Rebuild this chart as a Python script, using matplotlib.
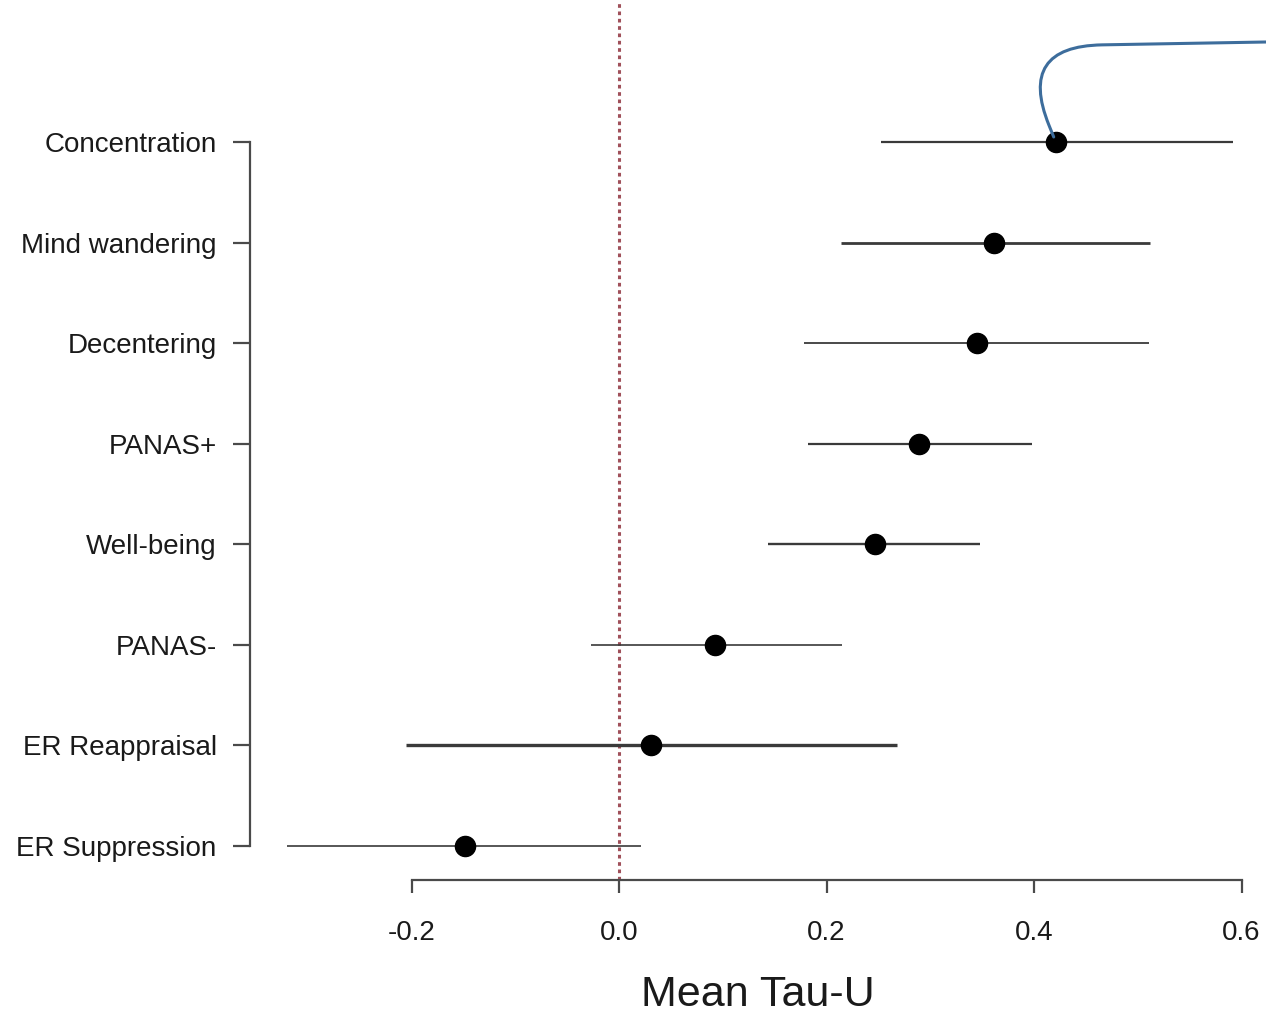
import matplotlib
matplotlib.use("Agg")
import matplotlib.pyplot as plt

categories = ["Concentration", "Mind wandering", "Decentering", "PANAS+",
              "Well-being", "PANAS-", "ER Reappraisal", "ER Suppression"]
mean_tau = [0.421, 0.361, 0.345, 0.289, 0.247, 0.093, 0.031, -0.148]
ci_low = [0.253, 0.214, 0.178, 0.182, 0.144, -0.027, -0.205, -0.320]
ci_high = [0.592, 0.512, 0.511, 0.398, 0.348, 0.215, 0.268, 0.021]
line_widths = [1.6, 2.0, 1.3, 1.6, 1.7, 1.2, 2.4, 1.2]
x_ticks = [-0.2, 0.0, 0.2, 0.4, 0.6]
x_tick_labels = ["-0.2", "0.0", "0.2", "0.4", "0.6"]

plt.rcParams['font.family'] = ['Liberation Sans', 'DejaVu Sans']

W, H = 1266, 1013
fig = plt.figure(figsize=(W / 100, H / 100), dpi=100)
ax = fig.add_axes([0, 0, 1, 1])

# pixel -> data mapping
px_per_unit = 1037.5
x0_px = 619
ax.set_xlim(-x0_px / px_per_unit, (W - x0_px) / px_per_unit)
row_px = (846 - 142) / 7
n = len(categories)
ypos = [n - i for i in range(n)]
ax.set_ylim(n - (H - 142) / row_px, n + 142 / row_px)

xaxis_y = n - (880 - 142) / row_px
yaxis_x = (250 - x0_px) / px_per_unit

# reference line at zero
ylo, yhi = ax.get_ylim()
ax.axvline(0, ymin=(xaxis_y - ylo) / (yhi - ylo), ymax=1, color="#a0505a",
           linestyle=(0, (1.2, 1.2)), lw=2.2, zorder=1)

for y, m, lo, hi, lw in zip(ypos, mean_tau, ci_low, ci_high, line_widths):
    ax.plot([lo, hi], [y, y], color="#3a3a3a", lw=lw, solid_capstyle="butt", zorder=2)
ax.plot(mean_tau, ypos, "o", color="black", markersize=14.5, zorder=3)

# blue annotation curve from the top point
ax.annotate("", xy=(mean_tau[0] - 0.002, ypos[0] + 0.05),
            xytext=((W - x0_px) / px_per_unit, ypos[0] + (142 - 42) / row_px),
            arrowprops=dict(arrowstyle="-", color="#3d6d9c", lw=2.2,
                            connectionstyle="angle,angleA=181,angleB=112,rad=85",
                            shrinkA=0, shrinkB=0))

# axes styling
for s in ["top", "right"]:
    ax.spines[s].set_visible(False)
ax.spines["left"].set_position(("data", yaxis_x))
ax.spines["left"].set_bounds(ypos[-1], ypos[0])
ax.spines["bottom"].set_position(("data", xaxis_y))
ax.spines["bottom"].set_bounds(x_ticks[0], x_ticks[-1])
for s in ["left", "bottom"]:
    ax.spines[s].set_color("#4a4a4a")
    ax.spines[s].set_linewidth(1.6)

ax.set_yticks(ypos)
ax.set_yticklabels(categories, fontsize=20, color="#1a1a1a")
ax.set_xticks(x_ticks)
ax.set_xticklabels(x_tick_labels, fontsize=20, color="#1a1a1a")
ax.tick_params(axis="y", length=12, width=1.6, color="#4a4a4a", pad=12)
ax.tick_params(axis="x", length=9.5, width=1.6, color="#4a4a4a", pad=19)

ax.set_xlabel("Mean Tau-U", fontsize=31, color="#1a1a1a", va="center")
ax.xaxis.set_label_coords(758 / W, 1 - 995 / H)

fig.savefig("out.png", dpi=100)
